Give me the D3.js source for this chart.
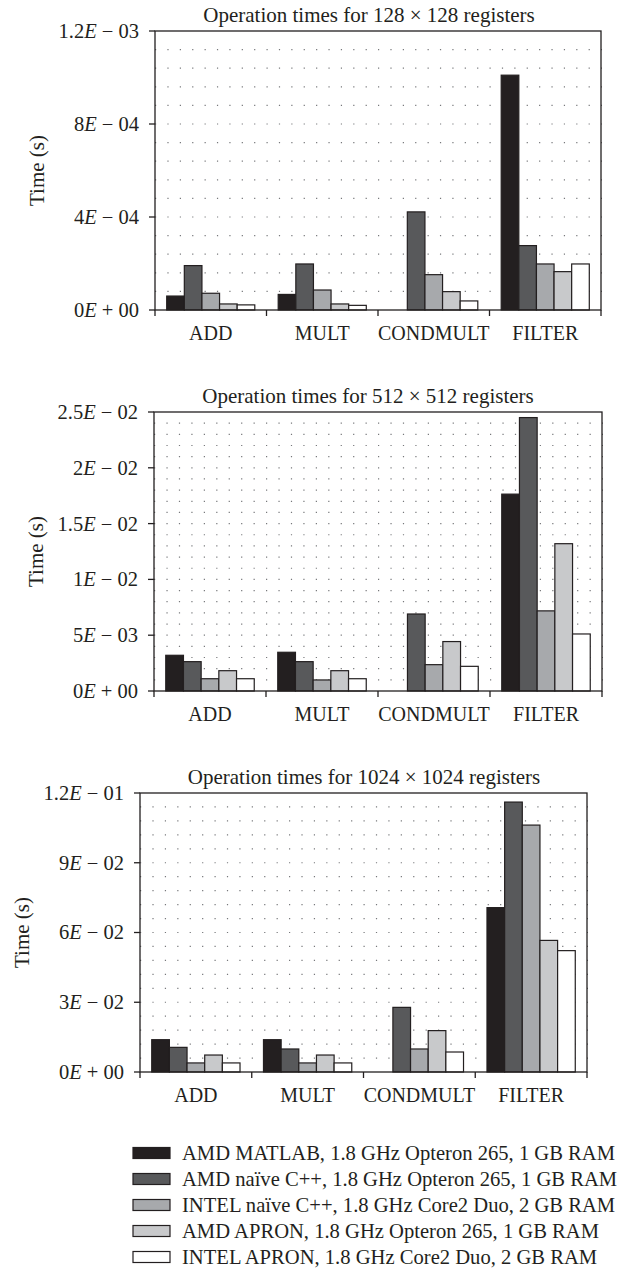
<!DOCTYPE html>
<html>
<head>
<meta charset="utf-8">
<script src="https://cdn.jsdelivr.net/npm/d3@7"></script>
<style>
  body { margin: 0; background: #fff; }
  svg text { font-family: "Liberation Serif", "DejaVu Serif", serif; fill: #231f20; }
</style>
</head>
<body>
<div id="chart"></div>
<script>
// categories and series
const categories = ["ADD", "MULT", "CONDMULT", "FILTER"];
const seriesNames = [
    "AMD MATLAB, 1.8 GHz Opteron 265, 1 GB RAM",
    "AMD naïve C++, 1.8 GHz Opteron 265, 1 GB RAM",
    "INTEL naïve C++, 1.8 GHz Core2 Duo, 2 GB RAM",
    "AMD APRON, 1.8 GHz Opteron 265, 1 GB RAM",
    "INTEL APRON, 1.8 GHz Core2 Duo, 2 GB RAM"
];
const seriesColors = ["#231f20", "#58595b", "#a7a9ac", "#c8c9cb", "#ffffff"];

// 128 x 128 (one row per series, values per category)
const times128 = [
    [6.0e-5, 6.7e-5, 0, 1.01e-3],
    [1.91e-4, 1.98e-4, 4.22e-4, 2.77e-4],
    [7.2e-5, 8.6e-5, 1.52e-4, 1.98e-4],
    [2.6e-5, 2.6e-5, 7.9e-5, 1.65e-4],
    [2.2e-5, 2.0e-5, 3.9e-5, 1.98e-4]
];
// 512 x 512
const times512 = [
    [3.2e-3, 3.47e-3, 0, 1.764e-2],
    [2.63e-3, 2.63e-3, 6.9e-3, 2.45e-2],
    [1.1e-3, 0.99e-3, 2.36e-3, 7.18e-3],
    [1.82e-3, 1.82e-3, 4.43e-3, 1.32e-2],
    [1.1e-3, 1.1e-3, 2.21e-3, 5.11e-3]
];
// 1024 x 1024
const times1024 = [
    [1.39e-2, 1.39e-2, 0, 7.07e-2],
    [1.06e-2, 0.99e-2, 2.78e-2, 1.161e-1],
    [3.9e-3, 3.9e-3, 9.9e-3, 1.062e-1],
    [7.3e-3, 7.3e-3, 1.78e-2, 5.66e-2],
    [3.9e-3, 3.9e-3, 8.6e-3, 5.22e-2]
];

// y ticks and labels
const ticks128 = [0, 4e-4, 8e-4, 1.2e-3];
const tickLabels128 = ["0E + 00", "4E − 04", "8E − 04", "1.2E − 03"];
const ticks512 = [0, 5e-3, 1e-2, 1.5e-2, 2e-2, 2.5e-2];
const tickLabels512 = ["0E + 00", "5E − 03", "1E − 02", "1.5E − 02", "2E − 02", "2.5E − 02"];
const ticks1024 = [0, 3e-2, 6e-2, 9e-2, 1.2e-1];
const tickLabels1024 = ["0E + 00", "3E − 02", "6E − 02", "9E − 02", "1.2E − 01"];

const titles = [
    "Operation times for 128 × 128 registers",
    "Operation times for 512 × 512 registers",
    "Operation times for 1024 × 1024 registers"
];

const W = 619, H = 1270;

const svg = d3.select("#chart").append("svg")
    .attr("width", W)
    .attr("height", H);

// one panel per register size
const panels = [
    { data: times128, ticks: ticks128, labels: tickLabels128, max: 1.2e-3, minor: 15, left: 155, top: 31, width: 446, titleX: 369 },
    { data: times512, ticks: ticks512, labels: tickLabels512, max: 2.5e-2, minor: 25, left: 154, top: 412, width: 448, titleX: 368 },
    { data: times1024, ticks: ticks1024, labels: tickLabels1024, max: 1.2e-1, minor: 20, left: 140, top: 793, width: 447, titleX: 364 }
];

const plotH = 279;

// write a label like "1.2E − 03" with italic E
function sciLabel(sel, label) {
    let parts = label.split("E");
    sel.append("tspan").text(parts[0]);
    sel.append("tspan").attr("font-style", "italic").text("E");
    sel.append("tspan").text(parts[1]);
}

panels.forEach((p, pi) => {
    let plotW = p.width;
    let g = svg.append("g").attr("transform", `translate(${p.left},${p.top})`);

    let x0 = d3.scaleBand().domain(categories).range([0, plotW]).paddingInner(0.21).paddingOuter(0.105);
    let x1 = d3.scaleBand().domain(d3.range(seriesNames.length)).range([0, x0.bandwidth()]);
    let y = d3.scaleLinear().domain([0, p.max]).range([plotH, 0]);

    // dotted grid
    let step = plotW / 36;
    let rows = d3.range(1, p.minor).map(i => i * p.max / p.minor);
    g.append("g").selectAll("line")
        .data(rows)
        .join("line")
        .attr("x1", 0)
        .attr("x2", plotW + 1)
        .attr("y1", d => y(d))
        .attr("y2", d => y(d))
        .attr("stroke", "#77787b")
        .attr("stroke-width", 1.2)
        .attr("stroke-dasharray", `1.2 ${step - 1.2}`);

    // bars
    let groups = g.append("g").selectAll("g")
        .data(categories)
        .join("g")
        .attr("transform", d => `translate(${x0(d)},0)`);

    groups.selectAll("rect")
        .data((c, ci) => p.data.map((s, si) => ({ si: si, v: s[ci] })).filter(d => d.v > 0))
        .join("rect")
        .attr("x", d => x1(d.si))
        .attr("y", d => y(d.v))
        .attr("width", x1.bandwidth())
        .attr("height", d => plotH - y(d.v))
        .attr("fill", d => seriesColors[d.si])
        .attr("stroke", "#231f20")
        .attr("stroke-width", 1.2);

    // frame
    g.append("rect")
        .attr("width", plotW)
        .attr("height", plotH)
        .attr("fill", "none")
        .attr("stroke", "#231f20")
        .attr("stroke-width", 1.3);

    // y axis ticks + labels
    let yt = g.append("g").selectAll("g")
        .data(p.ticks)
        .join("g")
        .attr("transform", d => `translate(0,${y(d)})`);
    yt.append("line")
        .attr("x1", -6)
        .attr("x2", 0)
        .attr("stroke", "#231f20")
        .attr("stroke-width", 1.3);
    yt.append("text")
        .attr("x", -16)
        .attr("dy", "0.34em")
        .attr("text-anchor", "end")
        .attr("font-size", 20.5)
        .each(function (d, i) { sciLabel(d3.select(this), p.labels[i]); });

    // x axis separators
    let seps = categories.map(c => x0(c) - x0.step() * x0.paddingInner() / 2);
    seps[0] = 0;
    seps.push(plotW);
    g.append("g").selectAll("line")
        .data(seps)
        .join("line")
        .attr("x1", d => d)
        .attr("x2", d => d)
        .attr("y1", plotH)
        .attr("y2", plotH + 6)
        .attr("stroke", "#231f20")
        .attr("stroke-width", 1.3);

    // category labels
    g.append("g").selectAll("text")
        .data(categories)
        .join("text")
        .attr("x", d => x0(d) + x0.bandwidth() / 2)
        .attr("y", plotH + 30)
        .attr("text-anchor", "middle")
        .attr("font-size", 20)
        .text(d => d);

    // y title
    g.append("text")
        .attr("transform", `translate(${-118},${plotH / 2}) rotate(-90)`)
        .attr("dy", "0.35em")
        .attr("text-anchor", "middle")
        .attr("font-size", 21)
        .text("Time (s)");

    // title
    svg.append("text")
        .attr("x", p.titleX)
        .attr("y", p.top - 9)
        .attr("text-anchor", "middle")
        .attr("font-size", 21)
        .text(titles[pi]);
});

// legend
const legend = svg.append("g").attr("transform", "translate(133,1153)");
const legendRows = legend.selectAll("g")
    .data(seriesNames)
    .join("g")
    .attr("transform", (d, i) => `translate(0,${i * 26})`);

legendRows.append("rect")
    .attr("x", 0)
    .attr("y", -5.5)
    .attr("width", 37)
    .attr("height", 11)
    .attr("fill", (d, i) => seriesColors[i])
    .attr("stroke", "#231f20")
    .attr("stroke-width", 1.2);

legendRows.append("text")
    .attr("x", 49)
    .attr("dy", "0.34em")
    .attr("font-size", 20.6)
    .text(d => d);
</script>
</body>
</html>
